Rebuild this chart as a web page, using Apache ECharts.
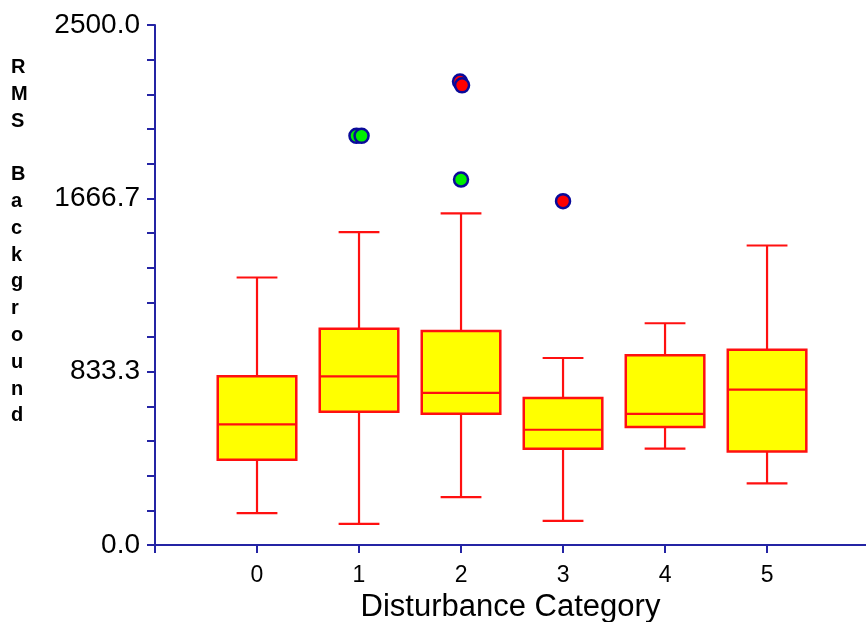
<!DOCTYPE html>
<html>
<head>
<meta charset="utf-8">
<script src="https://cdn.jsdelivr.net/npm/echarts@6/dist/echarts.min.js"></script>
<style>
  html, body { margin: 0; padding: 0; background: #fff; }
  #main { width: 866px; height: 622px; }
</style>
</head>
<body>
<div id="main"></div>
<script>
// categories and box statistics
var categories = [0, 1, 2, 3, 4, 5];
var lowerWhisker = [153, 102, 230, 116, 463, 296];
var q1 = [410, 641, 631, 463, 567, 450];
var median = [580, 811, 731, 554, 630, 747];
var q3 = [811, 1040, 1029, 707, 912, 939];
var upperWhisker = [1286, 1504, 1594, 899, 1066, 1440];

// outliers [category position, value]
var mildOutliers = [[0.975, 1967], [1.025, 1967], [2, 1757]];
var extremeOutliers = [[1.99, 2228], [2.01, 2210], [3, 1653]];

// y axis ticks / labels
var yTicks = [0, 166.67, 333.33, 500, 666.67, 833.33, 1000, 1166.67, 1333.33, 1500,
              1666.67, 1833.33, 2000, 2166.67, 2333.33, 2500];
var yLabels = [0, 833.33, 1666.67, 2500];
var xTicks = [-1, 0, 1, 2, 3, 4, 5];

var boxData = categories.map(function (c, i) {
    return [c, lowerWhisker[i], q1[i], median[i], q3[i], upperWhisker[i]];
});

var axisColor = '#2424a4';
var boxRed = '#ff1010';
var font = 'Liberation Sans, Arial, sans-serif';

var myChart = echarts.init(document.getElementById('main'));

var option = {
    animation: false,
    backgroundColor: '#ffffff',
    grid: {
        left: 155,
        right: 0,
        top: 25,
        bottom: 77,
        outerBoundsMode: 'none'
    },
    graphic: [{
        type: 'text',
        left: 11,
        top: 54,
        style: {
            text: 'R\nM\nS\n\nB\na\nc\nk\ng\nr\no\nu\nn\nd',
            font: 'bold 20px ' + font,
            lineHeight: 26.8,
            align: 'center',
            fill: '#000'
        }
    }],
    xAxis: {
        type: 'value',
        min: -1,
        max: 5.97,
        name: 'Disturbance Category',
        nameLocation: 'middle',
        nameGap: 44,
        nameTextStyle: { fontFamily: font, fontSize: 31, lineHeight: 31, color: '#000' },
        splitLine: { show: false },
        axisLine: { show: true, onZero: false, lineStyle: { color: axisColor, width: 2 } },
        axisTick: { show: true, length: 8, customValues: xTicks, lineStyle: { color: axisColor, width: 2 } },
        axisLabel: {
            customValues: categories,
            margin: 19,
            fontFamily: font,
            fontSize: 23,
            color: '#000'
        }
    },
    yAxis: {
        type: 'value',
        min: 0,
        max: 2500,
        splitLine: { show: false },
        axisLine: { show: true, onZero: false, lineStyle: { color: axisColor, width: 2 } },
        axisTick: { show: true, length: 8, customValues: yTicks, lineStyle: { color: axisColor, width: 2 } },
        axisLabel: {
            customValues: yLabels,
            margin: 15,
            fontFamily: font,
            fontSize: 28,
            color: '#000',
            formatter: function (v) { return v.toFixed(1); }
        }
    },
    series: [
        {
            type: 'custom',
            clip: false,
            data: boxData,
            encode: { x: 0, y: [1, 2, 3, 4, 5] },
            renderItem: function (params, api) {
                var x = api.value(0);
                var band = api.size([1, 0])[0];
                var half = band * 0.385;
                var cap = band * 0.2;
                var pLow = api.coord([x, api.value(1)]);
                var pQ1 = api.coord([x, api.value(2)]);
                var pMed = api.coord([x, api.value(3)]);
                var pQ3 = api.coord([x, api.value(4)]);
                var pHigh = api.coord([x, api.value(5)]);
                var cx = pLow[0];
                var ls = { stroke: boxRed, lineWidth: 2.2 };
                return {
                    type: 'group',
                    children: [
                        { type: 'line', shape: { x1: cx, y1: pQ1[1], x2: cx, y2: pLow[1] }, style: ls },
                        { type: 'line', shape: { x1: cx, y1: pQ3[1], x2: cx, y2: pHigh[1] }, style: ls },
                        { type: 'line', shape: { x1: cx - cap, y1: pLow[1], x2: cx + cap, y2: pLow[1] }, style: ls },
                        { type: 'line', shape: { x1: cx - cap, y1: pHigh[1], x2: cx + cap, y2: pHigh[1] }, style: ls },
                        {
                            type: 'rect',
                            shape: { x: cx - half, y: pQ3[1], width: half * 2, height: pQ1[1] - pQ3[1] },
                            style: { fill: '#ffff00', stroke: boxRed, lineWidth: 2.5 }
                        },
                        { type: 'line', shape: { x1: cx - half, y1: pMed[1], x2: cx + half, y2: pMed[1] }, style: ls }
                    ]
                };
            }
        },
        {
            type: 'scatter',
            data: mildOutliers,
            symbol: 'circle',
            symbolSize: 14,
            itemStyle: { color: '#00ee00', borderColor: '#0a0a9a', borderWidth: 2.5, opacity: 1 }
        },
        {
            type: 'scatter',
            data: extremeOutliers,
            symbol: 'circle',
            symbolSize: 14,
            itemStyle: { color: '#ff0000', borderColor: '#0a0a9a', borderWidth: 2.5, opacity: 1 }
        }
    ]
};

myChart.setOption(option);
</script>
</body>
</html>
